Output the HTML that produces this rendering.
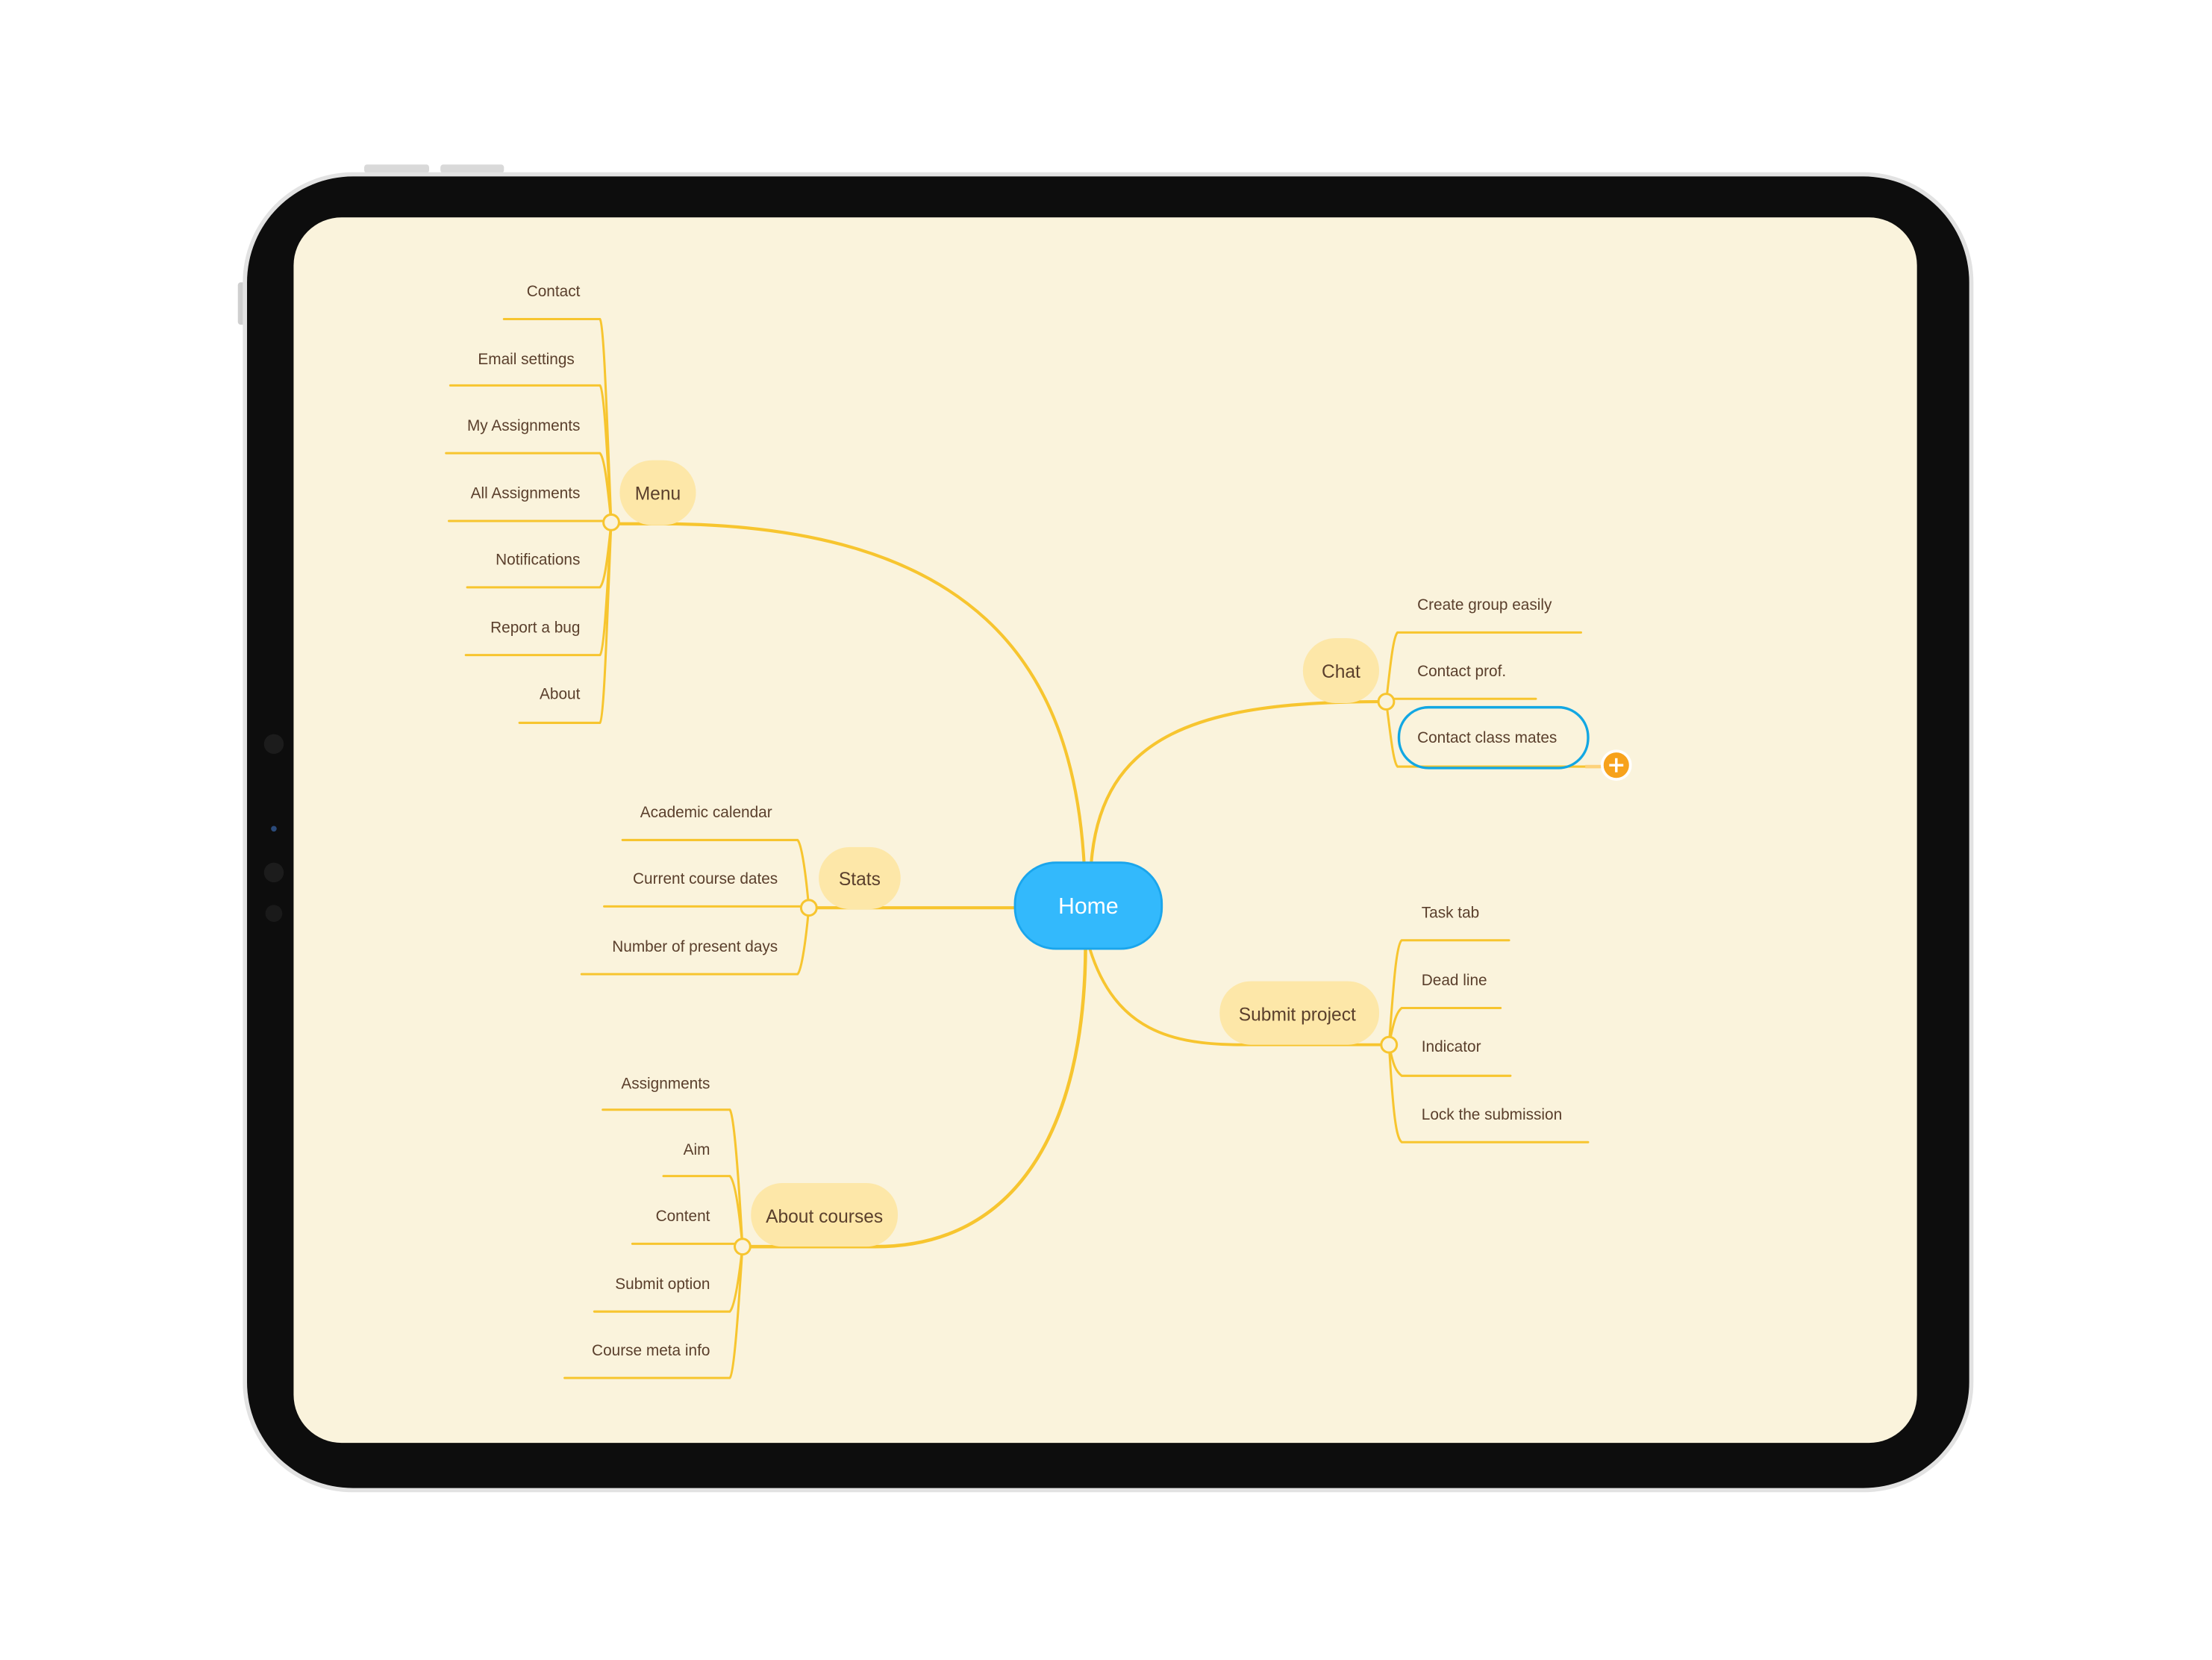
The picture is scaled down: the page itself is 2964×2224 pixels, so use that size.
<!DOCTYPE html>
<html><head><meta charset="utf-8"><style>
html,body{margin:0;padding:0;background:#fff;width:2964px;height:2224px;overflow:hidden}
svg{display:block}
text{font-family:"Liberation Sans",sans-serif;fill:#5a3f2c}
.c{font-size:11px}
.b{font-size:13px}
</style></head><body>
<svg width="2964" height="2224" viewBox="0 0 1567 1175.8" preserveAspectRatio="none">
<!-- device -->
<rect x="258" y="116.5" width="46" height="6" rx="2" fill="#d9d9d9"/>
<rect x="312" y="116.5" width="45" height="6" rx="2" fill="#d9d9d9"/>
<rect x="168.5" y="200" width="5" height="30" rx="2" fill="#cfcfcf"/>
<rect x="172" y="122" width="1226" height="935" rx="78" fill="#e2e2e2"/>
<rect x="175" y="125" width="1220" height="929" rx="75" fill="#0d0d0d"/>
<rect x="208" y="154" width="1150" height="868" rx="34" fill="#faf3dc"/>
<circle cx="194" cy="527" r="7" fill="#1c1c1c"/>
<circle cx="194" cy="618" r="7" fill="#1c1c1c"/>
<circle cx="194" cy="647" r="6" fill="#1a1a1a"/>
<circle cx="194" cy="587" r="2" fill="#2a4a7a"/>

<g fill="none" stroke="#f7c52f" stroke-width="1.6" stroke-linecap="round">
<path d="M768 612 C760 470 690 372 470 371 L438 371" stroke-width="2.2"/>
<path d="M773 612 C780 520 850 497 977 497" stroke-width="2.2"/>
<path d="M719 643 L578 643" stroke-width="2.2"/>
<path d="M769 672 C768 800 720 883 620 883 L531 883" stroke-width="2.4"/>
<path d="M772 672 C790 730 830 740 880 740 L979 740" stroke-width="2"/>
<path d="M433 370 C430 300 428 230 425 226 L357 226"/>
<path d="M433 370 C430 320 428 276 425 273 L319 273"/>
<path d="M433 370 C430 340 428 324 425 321 L316 321"/>
<path d="M428 369 L318 369"/>
<path d="M433 370 C430 400 428 413 425 416 L331 416"/>
<path d="M433 370 C430 420 428 461 425 464 L330 464"/>
<path d="M433 370 C430 440 428 509 425 512 L368 512"/>
<path d="M573 643 C571 620 568 598 565 595 L441 595"/>
<path d="M568 642 L428 642"/>
<path d="M573 643 C571 665 568 687 565 690 L412 690"/>
<path d="M526 883 C523 830 520 790 517 786 L427 786"/>
<path d="M526 883 C523 850 520 836 517 833 L470 833"/>
<path d="M521 881 L448 881"/>
<path d="M526 883 C523 910 520 926 517 929 L421 929"/>
<path d="M526 883 C523 930 520 973 517 976 L400 976"/>
<path d="M982 497 C985 470 987 451 990 448 L1120 448"/>
<path d="M987 495 L1088 495"/>
<path d="M982 497 C985 520 987 540 990 543 L1123 543"/>
<path d="M984 740 C987 700 989 669 993 666 L1069 666"/>
<path d="M984 740 C987 725 989 717 993 714 L1063 714"/>
<path d="M984 740 C987 755 989 759 993 762 L1070 762"/>
<path d="M984 740 C987 790 989 806 993 809 L1125 809"/>
</g>
<line x1="1123" y1="543" x2="1136" y2="543" stroke="#fdd27a" stroke-width="2.5"/>

<rect x="439" y="326" width="54" height="46" rx="23" fill="#fde7a8"/>
<rect x="580" y="600" width="58" height="44" rx="22" fill="#fde7a8"/>
<rect x="532" y="838" width="104" height="45" rx="22" fill="#fde7a8"/>
<rect x="923" y="452" width="54" height="46" rx="23" fill="#fde7a8"/>
<rect x="864" y="695" width="113" height="45" rx="22" fill="#fde7a8"/>

<g fill="#faf3dc" stroke="#f7c52f" stroke-width="1.6">
<circle cx="433" cy="370" r="5.5"/>
<circle cx="573" cy="643" r="5.5"/>
<circle cx="526" cy="883" r="5.5"/>
<circle cx="982" cy="497" r="5.5"/>
<circle cx="984" cy="740" r="5.5"/>
</g>

<rect x="719" y="611" width="104" height="61" rx="29" fill="#33b9fc" stroke="#1aa5ec" stroke-width="1.5"/>
<text x="771" y="647" text-anchor="middle" style="font-size:16px;fill:#fff">Home</text>

<rect x="991" y="501" width="134" height="43" rx="21" fill="none" stroke="#12a7e3" stroke-width="1.8"/>
<circle cx="1145" cy="542" r="10" fill="#f7a21b" stroke="#fff" stroke-width="2"/>
<path d="M1145 537v10M1140 542h10" stroke="#fff" stroke-width="1.8"/>

<g class="b" text-anchor="middle">
<text x="466" y="354">Menu</text>
<text x="609" y="627">Stats</text>
<text x="584" y="866">About courses</text>
<text x="950" y="480">Chat</text>
<text x="919" y="723">Submit project</text>
</g>
<g class="c" text-anchor="end">
<text x="411" y="210">Contact</text>
<text x="407" y="258">Email settings</text>
<text x="411" y="305">My Assignments</text>
<text x="411" y="353">All Assignments</text>
<text x="411" y="400">Notifications</text>
<text x="411" y="448">Report a bug</text>
<text x="411" y="495">About</text>
<text x="547" y="579">Academic calendar</text>
<text x="551" y="626">Current course dates</text>
<text x="551" y="674">Number of present days</text>
<text x="503" y="771">Assignments</text>
<text x="503" y="818">Aim</text>
<text x="503" y="865">Content</text>
<text x="503" y="913">Submit option</text>
<text x="503" y="960">Course meta info</text>
</g>
<g class="c">
<text x="1004" y="432">Create group easily</text>
<text x="1004" y="479">Contact prof.</text>
<text x="1004" y="526">Contact class mates</text>
<text x="1007" y="650">Task tab</text>
<text x="1007" y="698">Dead line</text>
<text x="1007" y="745">Indicator</text>
<text x="1007" y="793">Lock the submission</text>
</g>
</svg>
</body></html>
